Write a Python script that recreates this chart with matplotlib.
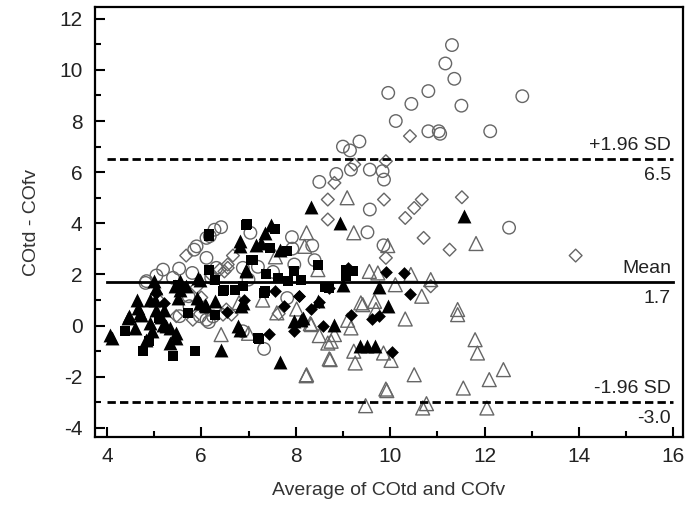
import matplotlib
matplotlib.use("Agg")
import matplotlib.pyplot as plt
from matplotlib.ticker import MultipleLocator

plt.rcParams['font.family'] = ['Liberation Sans', 'DejaVu Sans']
plt.rcParams['axes.unicode_minus'] = False

# Open circles (gray)
circ_x = [11.31, 11.17, 11.36, 9.96, 10.81, 10.45, 11.51, 12.8, 10.12, 10.81, 11.03, 11.06, 12.12,
          9.84, 9.87, 12.52, 8.5, 8.86, 9.17, 9.57, 9.0, 9.15, 9.35, 9.57, 9.52, 9.86, 7.92, 8.35,
          7.93, 8.4, 7.97, 7.52, 7.82, 7.33, 7.04, 6.42, 6.28, 6.11, 5.9, 5.85, 6.11, 6.18, 5.19,
          5.05, 4.82, 5.53, 5.81, 6.32, 6.21, 6.88, 6.88, 6.16, 5.97, 5.73, 4.84, 5.4, 5.75, 5.54,
          6.11, 6.25, 7.0, 7.2]
circ_y = [10.97, 10.25, 9.65, 9.1, 9.17, 8.67, 8.6, 8.97, 8.0, 7.6, 7.6, 7.5, 7.6,
          6.04, 5.71, 3.83, 5.62, 5.93, 6.1, 6.1, 7.0, 6.85, 7.2, 4.54, 3.65, 3.14, 3.46, 3.13,
          3.01, 2.56, 2.39, 2.1, 1.08, -0.91, 3.63, 3.85, 3.75, 3.43, 3.1, 2.97, 2.65, 3.5, 2.19,
          1.96, 1.67, 2.23, 2.06, 2.26, 1.87, 2.26, -0.22, 0.14, 0.37, 1.15, 1.74, 1.87, 0.76, 0.37,
          0.23, 0.36, 1.8, 2.3]

# Open diamonds (gray)
odia_x = [10.42, 9.91, 9.24, 9.87, 10.67, 10.51, 10.32, 11.52, 10.71, 11.26, 9.91, 13.93, 8.82,
          8.68, 8.68, 10.86, 7.64, 5.68, 6.67, 6.56, 5.12, 5.82, 6.64, 5.47, 6.39, 6.49, 6.56,
          6.53, 6.46, 6.2, 5.9, 6.0]
odia_y = [7.41, 6.43, 6.3, 4.93, 4.93, 4.6, 4.21, 5.02, 3.43, 2.97, 2.65, 2.74, 5.58,
          4.93, 4.15, 1.54, 0.47, 2.74, 2.74, 2.39, 0.95, 0.23, 0.43, 0.37, 2.19, 2.12, 2.26,
          0.63, 0.43, 2.0, 1.5, 1.1]

# Open triangles (gray)
otri_x = [9.95, 11.82, 11.43, 11.43, 11.8, 11.85, 10.51, 11.55, 12.1, 12.4, 10.69, 10.77, 12.05,
          10.67, 10.86, 10.44, 10.32, 9.93, 10.02, 9.86, 10.11, 8.23, 8.19, 9.23, 8.47, 9.56,
          9.74, 9.42, 9.67, 9.7, 8.33, 9.1, 9.17, 8.5, 8.82, 8.68, 8.75, 9.23, 8.73, 9.26, 8.23,
          7.57, 9.09, 8.02, 8.31, 8.71, 8.22, 9.91, 9.38, 6.42, 6.8, 7.0, 7.3, 7.6, 9.48]
otri_y = [3.13, 3.21, 0.63, 0.43, -0.55, -1.07, -1.92, -2.44, -2.11, -1.72, -3.22, -3.05, -3.22,
          1.15, 1.8, 2.0, 0.26, -2.54, -1.36, -1.07, 1.6, 3.63, 3.1, 3.63, 2.19, 2.12,
          2.06, 0.82, 0.95, 0.63, 0.04, 0.21, -0.09, -0.39, -0.35, -0.68, -0.61, -1.0, -1.33, -1.46, -1.92,
          2.69, 5.0, 0.65, 0.08, -1.3, -1.96, -2.48, 0.89, -0.35, 0.9, -0.3, 1.0, 0.5, -3.13]

# Filled triangles (black)
ftri_x = [4.1, 4.63, 4.45, 4.82, 4.7, 5.01, 5.05, 5.26, 5.33, 5.47, 5.44, 5.54, 5.93, 5.9, 6.07,
          6.28, 6.81, 6.95, 6.42, 6.81, 6.85, 7.16, 5.0, 4.06, 4.47, 4.66, 4.91, 4.73, 5.15, 5.05,
          5.54, 5.51, 5.68, 5.97, 5.97, 4.91, 5.19, 5.33, 5.47, 7.48, 7.34, 7.27, 6.81, 7.66, 8.33,
          6.95, 6.88, 6.77, 6.11, 8.93, 9.01, 9.76, 9.95, 8.47, 8.15, 8.82, 9.37, 9.52, 9.67, 7.67,
          7.97, 8.12, 11.57, 4.95, 5.2, 4.6]
ftri_y = [-0.48, 1.02, 0.3, -0.55, 0.5, 1.02, 0.63, -0.03, -0.68, -0.48, 1.54, 1.74, 1.87, 1.08, 0.82,
          0.95, 3.1, 2.12, -0.94, -0.16, 0.76, 3.17, 1.74, -0.35, 0.37, 0.69, 1.02, 0.43, 0.35, 1.47,
          1.41, 1.08, 1.54, 1.8, 0.89, 0.1, 0.04, -0.09, -0.29, 3.95, 3.63, 3.24, 3.3, 2.97, 4.65,
          2.19, 0.89, -0.03, 0.76, 4.02, 1.6, 1.51, 0.76, 0.95, 0.3, 0.04, -0.81, -0.81, -0.81, -1.43,
          0.17, 0.23, 4.28, -0.2, 0.6, -0.1]

# Filled squares (black)
fsq_x = [4.38, 4.77, 5.39, 5.86, 6.16, 6.16, 5.72, 6.28, 6.95, 7.06, 6.46, 6.88, 7.2, 6.97, 6.16,
         7.45, 7.81, 7.38, 7.62, 7.97, 7.83, 6.28, 6.49, 6.71, 7.34, 8.47, 9.07, 9.21, 9.07, 8.61,
         8.71, 8.11, 7.57, 7.09, 7.32, 7.22, 5.5, 5.1, 4.9]
fsq_y = [-0.22, -1.0, -1.17, -1.0, 3.52, 2.19, 0.5, 0.43, 3.95, 2.58, 1.34, 1.54, -0.48, 3.99, 3.6,
         3.04, 2.91, 2.0, 1.87, 2.12, 1.73, 1.8, 1.41, 1.41, 1.34, 2.39, 2.19, 2.12, 1.93, 1.51,
         1.47, 1.8, 3.76, 2.56, 1.28, -0.52, 1.6, 0.3, -0.6]

# Filled diamonds (black)
fdia_x = [7.57, 8.07, 7.76, 7.97, 8.33, 8.49, 7.43, 8.58, 9.17, 9.62, 9.77, 9.1, 9.91, 10.3,
          10.42, 10.04, 8.71, 8.08, 5.05, 6.55, 6.9, 5.2]
fdia_y = [1.34, 1.17, 0.78, -0.22, 0.65, 0.91, -0.31, -0.03, 0.4, 0.26, 0.36, 2.26, 2.09, 2.06,
          1.25, -1.04, 1.47, 1.15, 1.28, 0.55, 1.0, 0.9]

mean_diff = 1.7
upper_loa = 6.5
lower_loa = -3.0
line_x = [4, 16]

gray = '#666666'

fig = plt.figure(figsize=(6.89, 5.14), dpi=100)
ax = fig.add_axes([0.138, 0.150, 0.853, 0.836])

ax.scatter(circ_x, circ_y, s=9**2, marker='o', facecolors='none', edgecolors=gray, linewidths=1.0, zorder=3)
ax.scatter(odia_x, odia_y, s=6.5**2, marker='D', facecolors='none', edgecolors=gray, linewidths=1.0, zorder=3)
ax.scatter(otri_x, otri_y, s=10**2, marker='^', facecolors='none', edgecolors=gray, linewidths=1.0, zorder=3)
ax.scatter(ftri_x, ftri_y, s=10**2, marker='^', color='black', linewidths=0, zorder=4)
ax.scatter(fsq_x, fsq_y, s=7.5**2, marker='s', color='black', linewidths=0, zorder=4)
ax.scatter(fdia_x, fdia_y, s=6.5**2, marker='D', color='black', linewidths=0, zorder=4)

ax.plot(line_x, [mean_diff, mean_diff], color='black', lw=2, zorder=5)
ax.plot(line_x, [upper_loa, upper_loa], color='black', lw=2, ls=(0, (3, 1.5)), zorder=5)
ax.plot(line_x, [lower_loa, lower_loa], color='black', lw=2, ls=(0, (3, 1.5)), zorder=5)

tx = 15.95
fs = 14
ax.text(tx, upper_loa + 0.2, '+1.96 SD', ha='right', va='bottom', fontsize=fs, color='#222222')
ax.text(tx, upper_loa - 0.3, f'{upper_loa:.1f}', ha='right', va='top', fontsize=fs, color='#222222')
ax.text(tx, mean_diff + 0.2, 'Mean', ha='right', va='bottom', fontsize=fs, color='#222222')
ax.text(tx, mean_diff - 0.3, f'{mean_diff:.1f}', ha='right', va='top', fontsize=fs, color='#222222')
ax.text(tx, lower_loa + 0.2, '-1.96 SD', ha='right', va='bottom', fontsize=fs, color='#222222')
ax.text(tx, lower_loa - 0.3, f'{lower_loa:.1f}', ha='right', va='top', fontsize=fs, color='#222222')

ax.set_xlim(3.75, 16.2)
ax.set_ylim(-4.35, 12.45)
ax.xaxis.set_major_locator(MultipleLocator(2))
ax.xaxis.set_minor_locator(MultipleLocator(1))
ax.yaxis.set_major_locator(MultipleLocator(2))
ax.yaxis.set_minor_locator(MultipleLocator(1))
ax.tick_params(which='both', direction='in', width=1.5, labelsize=15, color='black', labelcolor='#222222')
ax.tick_params(which='major', length=7)
ax.tick_params(which='minor', length=4)
ax.tick_params(axis='y', which='both', pad=9)
ax.tick_params(axis='x', which='both', pad=7)
for sp in ax.spines.values():
    sp.set_linewidth(1.6)

ax.set_xlabel('Average of COtd and COfv', fontsize=14, color='#333333', labelpad=12)
ax.set_ylabel('COtd - COfv', fontsize=14, color='#333333', labelpad=14)

fig.savefig('out.png', dpi=100)
